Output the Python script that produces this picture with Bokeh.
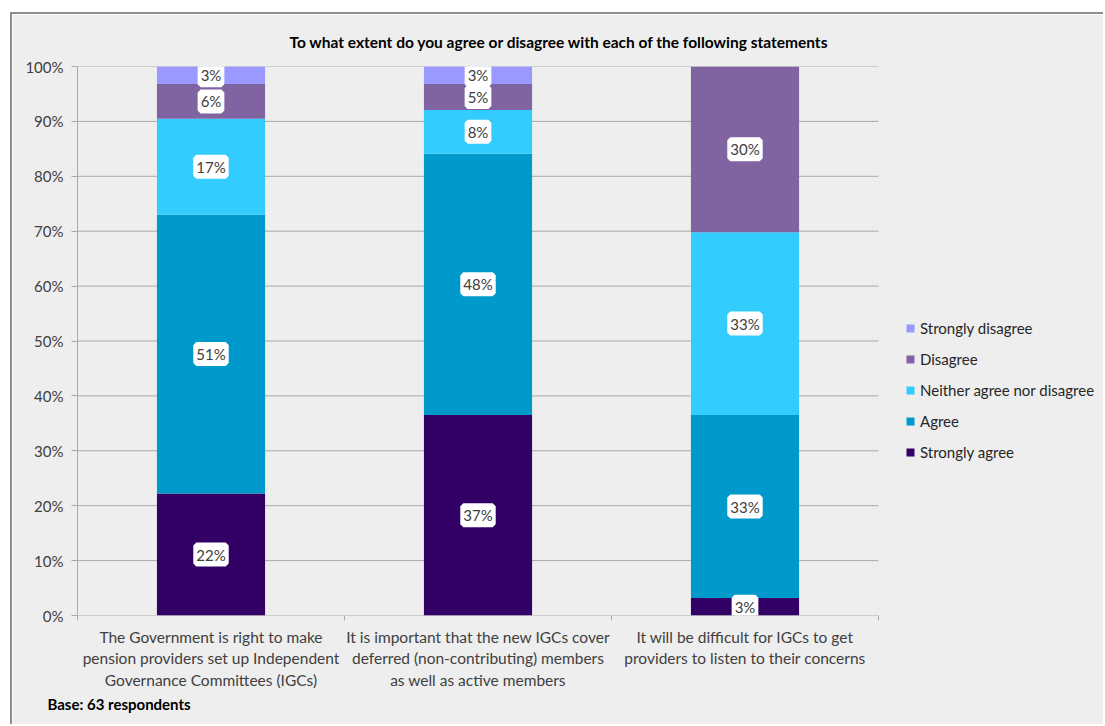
from bokeh.plotting import figure
from bokeh.models import (ColumnDataSource, FixedTicker, LabelSet, Legend, LegendItem,
                          Range1d, PrintfTickFormatter, Title)
from bokeh.core.properties import value
from bokeh.embed import file_html
from bokeh.resources import INLINE

# ---------------- data ----------------
categories = [
    "The Government is right to make\npension providers set up Independent\nGovernance Committees (IGCs)",
    "It is important that the new IGCs cover\ndeferred (non-contributing) members\nas well as active members",
    "It will be difficult for IGCs to get\nproviders to listen to their concerns",
]
responses = ["Strongly agree", "Agree", "Neither agree nor disagree", "Disagree", "Strongly disagree"]
strongly_agree = [22.22, 36.51, 3.17]
agree = [50.79, 47.62, 33.33]
neither = [17.46, 7.94, 33.33]
disagree = [6.35, 4.76, 30.16]
strongly_disagree = [3.17, 3.17, 0.0]
colors = ["#330066", "#0099cc", "#33ccff", "#8064a2", "#9999ff"]
y_ticks = [0, 10, 20, 30, 40, 50, 60, 70, 80, 90, 100]
title_text = "To what extent do you agree or disagree with each of the following statements"
base_text = "Base: 63 respondents"

FONT = "Lato"
GRID = "#a9a9a9"
series = [strongly_agree, agree, neither, disagree, strongly_disagree]
n = len(categories)
xs = [i + 0.5 for i in range(n)]
bounds = [float(i) for i in range(n + 1)]

# layout (pixels): canvas 1093 wide, plot area for the bars 801 px wide, frame runs to the right edge
CANVAS_W, CANVAS_H = 1093, 712
LEFT, TOP, BOTTOM = 65, 52, 111
BAR_AREA_PX = 801
frame_w = CANVAS_W - LEFT
x_end = n * frame_w / BAR_AREA_PX

data = {"x": xs}
keys = ["s%d" % i for i in range(len(series))]
for k, s in zip(keys, series):
    data[k] = s
source = ColumnDataSource(data)

p = figure(width=CANVAS_W, height=CANVAS_H, x_range=Range1d(0, x_end), y_range=Range1d(0, 100),
           output_backend="svg", toolbar_location=None,
           min_border_left=LEFT, min_border_top=TOP, min_border_right=0, min_border_bottom=BOTTOM,
           background_fill_color="#eeeeee", border_fill_color="#eeeeee",
           outline_line_color=None, margin=(12, 0, 0, 10),
           styles={"border-top": "2px solid #8d8d8d", "border-left": "2px solid #8d8d8d"})

p.title.text = title_text
p.title.align = "left"
p.title.offset = 212
p.title.text_font = FONT
p.title.text_font_size = "15.5px"
p.title.text_font_style = "bold"
p.title.text_color = "#000000"
p.title.standoff = 32

# horizontal gridlines only across the category area
p.segment(x0=[bounds[0]] * len(y_ticks), x1=[bounds[-1]] * len(y_ticks), y0=y_ticks, y1=y_ticks,
          line_color=GRID, line_width=1)

renderers = p.vbar_stack(keys, x="x", width=0.405, source=source, color=colors, line_width=0)

# data labels
for i, k in enumerate(keys):
    bottoms = [sum(series[j][c] for j in range(i)) for c in range(n)]
    mids, txts, xx = [], [], []
    for c in range(n):
        v = series[i][c]
        if v > 0:
            xx.append(xs[c])
            mids.append(bottoms[c] + v / 2.0)
            txts.append("%d%%" % round(v))
    ls = LabelSet(x="x", y="y", text="t", source=ColumnDataSource(dict(x=xx, y=mids, t=txts)),
                  text_align="center", text_baseline="middle", text_font=value(FONT),
                  text_font_size="15px", text_color="#404040",
                  background_fill_color="white", background_fill_alpha=1.0,
                  border_line_color="white", border_line_width=6)
    p.add_layout(ls)

# legend
items = [LegendItem(label=responses[i], renderers=[renderers[i]]) for i in reversed(range(len(responses)))]
legend = Legend(items=items, location=(828, 153), border_line_color=None,
                background_fill_alpha=0, padding=0, margin=0,
                glyph_width=10, glyph_height=10, label_height=20, spacing=11,
                label_standoff=5, label_text_font=FONT, label_text_font_size="15px",
                label_text_color="#262626")
p.add_layout(legend, "center")

# axes
p.yaxis.ticker = FixedTicker(ticks=y_ticks)
p.yaxis.formatter = PrintfTickFormatter(format="%d%%")
p.yaxis.major_tick_out = 6
p.yaxis.major_tick_in = 0
p.yaxis.minor_tick_out = 0
p.yaxis.minor_tick_in = 0
p.yaxis.axis_line_color = GRID
p.yaxis.major_tick_line_color = GRID
p.yaxis.major_label_text_font = FONT
p.yaxis.major_label_text_font_size = "15px"
p.yaxis.major_label_text_color = "#404040"
p.yaxis.major_label_standoff = 8

p.xaxis.ticker = FixedTicker(ticks=xs, minor_ticks=bounds)
p.xaxis.major_label_overrides = {x: c for x, c in zip(xs, categories)}
p.xaxis.major_tick_out = 0
p.xaxis.major_tick_in = 0
p.xaxis.minor_tick_out = 5
p.xaxis.minor_tick_in = 0
p.xaxis.axis_line_color = None
p.xaxis.minor_tick_line_color = GRID
p.xaxis.major_label_text_font = FONT
p.xaxis.major_label_text_font_size = "15.5px"
p.xaxis.major_label_text_color = "#404040"
p.xaxis.major_label_standoff = 7

p.xgrid.grid_line_color = None
p.ygrid.grid_line_color = None

p.add_layout(Title(text=base_text, align="left", offset=-30, text_font=FONT,
                   text_font_size="15px", text_font_style="bold", text_color="#000000",
                   standoff=2), "below")

open("out.html", "w").write(file_html(p, INLINE))
